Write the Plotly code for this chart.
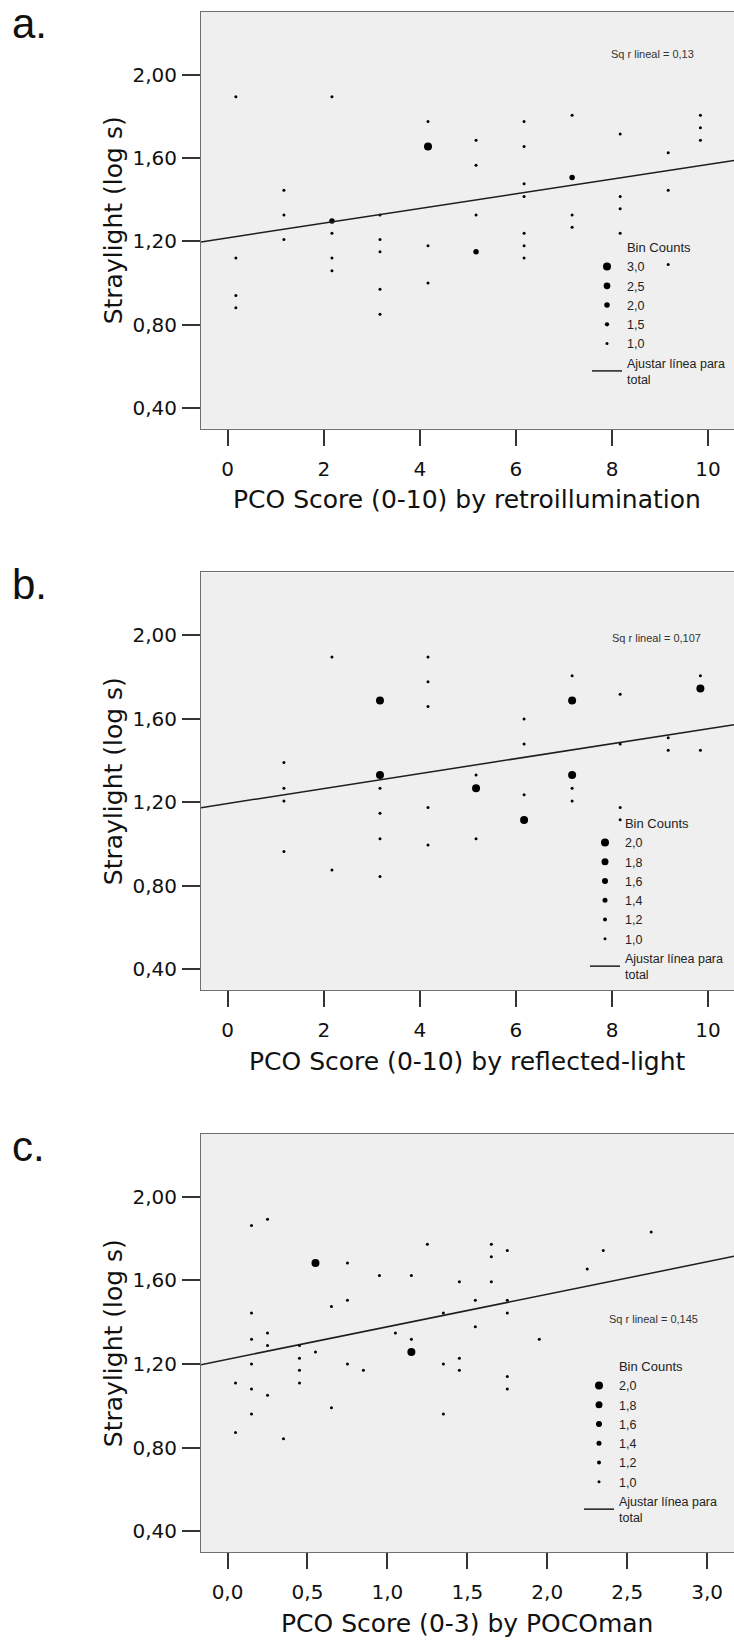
import plotly.graph_objects as go

# ---------------------------------------------------------------------------
# Binned scatter data: PCO score (x), straylight in log s (y), bin count (n)
# ---------------------------------------------------------------------------

# a. PCO score (0-10) by retroillumination
a_score = [0.17, 0.17, 0.17, 0.17,
           1.17, 1.17, 1.17,
           2.17, 2.17, 2.17, 2.17, 2.17,
           3.17, 3.17, 3.17, 3.17, 3.17,
           4.17, 4.17, 4.17, 4.17,
           5.17, 5.17, 5.17, 5.17,
           6.17, 6.17, 6.17, 6.17, 6.17, 6.17, 6.17,
           7.17, 7.17, 7.17, 7.17,
           8.17, 8.17, 8.17, 8.17,
           9.17, 9.17, 9.17,
           9.84, 9.84, 9.84]
a_straylight = [1.893, 1.119, 0.939, 0.880,
                1.445, 1.326, 1.208,
                1.893, 1.297, 1.238, 1.119, 1.058,
                1.326, 1.208, 1.149, 0.969, 0.849,
                1.775, 1.654, 1.178, 0.999,
                1.684, 1.565, 1.326, 1.149,
                1.775, 1.654, 1.476, 1.415, 1.238, 1.178, 1.119,
                1.804, 1.506, 1.326, 1.267,
                1.715, 1.415, 1.356, 1.238,
                1.625, 1.445, 1.088,
                1.804, 1.745, 1.684]
a_count = [1, 1, 1, 1,
           1, 1, 1,
           1, 2, 1, 1, 1,
           1, 1, 1, 1, 1,
           1, 3, 1, 1,
           1, 1, 1, 2,
           1, 1, 1, 1, 1, 1, 1,
           1, 2, 1, 1,
           1, 1, 1, 1,
           1, 1, 1,
           1, 1, 1]
a_fit = (1.216, 0.0352)          # intercept, slope
a_r2 = "Sq r lineal = 0,13"
a_levels = [3.0, 2.5, 2.0, 1.5, 1.0]

# b. PCO score (0-10) by reflected-light
b_score = [1.17, 1.17, 1.17, 1.17,
           2.17, 2.17,
           3.17, 3.17, 3.17, 3.17, 3.17, 3.17,
           4.17, 4.17, 4.17, 4.17, 4.17,
           5.17, 5.17, 5.17,
           6.17, 6.17, 6.17, 6.17,
           7.17, 7.17, 7.17, 7.17, 7.17,
           8.17, 8.17, 8.17, 8.17,
           9.17, 9.17,
           9.84, 9.84, 9.84]
b_straylight = [1.389, 1.266, 1.205, 0.963,
                1.895, 0.874,
                1.686, 1.330, 1.266, 1.146, 1.024, 0.843,
                1.895, 1.776, 1.657, 1.174, 0.994,
                1.330, 1.266, 1.024,
                1.597, 1.478, 1.235, 1.114,
                1.805, 1.686, 1.330, 1.266, 1.205,
                1.716, 1.478, 1.174, 1.115,
                1.508, 1.448,
                1.805, 1.744, 1.448]
b_count = [1, 1, 1, 1,
           1, 1,
           2, 2, 1, 1, 1, 1,
           1, 1, 1, 1, 1,
           1, 2, 1,
           1, 1, 1, 2,
           1, 2, 2, 1, 1,
           1, 1, 1, 1,
           1, 1,
           1, 2, 1]
b_fit = (1.193, 0.0358)
b_r2 = "Sq r lineal = 0,107"
b_levels = [2.0, 1.8, 1.6, 1.4, 1.2, 1.0]

# c. PCO score (0-3) by POCOman
c_score = [0.05, 0.05,
           0.15, 0.15, 0.15, 0.15, 0.15, 0.15,
           0.25, 0.25, 0.25, 0.25,
           0.35,
           0.45, 0.45, 0.45, 0.45,
           0.55, 0.55,
           0.65, 0.65,
           0.75, 0.75, 0.75,
           0.85,
           0.95,
           1.05,
           1.15, 1.15, 1.15,
           1.25,
           1.35, 1.35, 1.35,
           1.45, 1.45, 1.45,
           1.55, 1.55,
           1.65, 1.65, 1.65,
           1.75, 1.75, 1.75, 1.75, 1.75,
           1.95,
           2.25,
           2.35,
           2.65]
c_straylight = [1.110, 0.873,
                1.862, 1.444, 1.319, 1.200, 1.081, 0.961,
                1.892, 1.349, 1.289, 1.051,
                0.843,
                1.289, 1.228, 1.170, 1.110,
                1.683, 1.258,
                1.475, 0.991,
                1.683, 1.505, 1.200,
                1.170,
                1.624,
                1.349,
                1.624, 1.319, 1.258,
                1.773,
                1.444, 1.200, 0.961,
                1.594, 1.228, 1.170,
                1.505, 1.379,
                1.773, 1.713, 1.594,
                1.743, 1.505, 1.444, 1.140, 1.081,
                1.319,
                1.654,
                1.743,
                1.832]
c_count = [1, 1,
           1, 1, 1, 1, 1, 1,
           1, 1, 1, 1,
           1,
           1, 1, 1, 1,
           2, 1,
           1, 1,
           1, 1, 1,
           1,
           1,
           1,
           1, 1, 2,
           1,
           1, 1, 1,
           1, 1, 1,
           1, 1,
           1, 1, 1,
           1, 1, 1, 1, 1,
           1,
           1,
           1,
           1]
c_fit = (1.223, 0.1553)
c_r2 = "Sq r lineal = 0,145"
c_levels = [2.0, 1.8, 1.6, 1.4, 1.2, 1.0]

# Axis ticks
y_ticks = [0.4, 0.8, 1.2, 1.6, 2.0]
x_ticks_10 = [0, 2, 4, 6, 8, 10]
x_ticks_3 = [0.0, 0.5, 1.0, 1.5, 2.0, 2.5, 3.0]

y_title = "Straylight (log s)"
x_titles = ["PCO Score (0-10) by retroillumination",
            "PCO Score (0-10) by reflected-light",
            "PCO Score (0-3) by POCOman"]
panel_tags = ["a.", "b.", "c."]
fit_label = "Ajustar línea para<br>total"
size_title = "Bin Counts"

# ---------------------------------------------------------------------------
# Layout geometry (pixels in a 734 x 1641 page)
# ---------------------------------------------------------------------------
W, H = 734, 1641
PLOT_LEFT = 201
WIDE = "DejaVu Sans, Verdana, sans-serif"
SANS = "Liberation Sans, Arial, sans-serif"
INK = "#111111"


def fx(px):
    return px / W


def fy(px_from_top):
    return 1 - px_from_top / H


def dot_size(n, n_max):
    return 3 + (n - 1) / (n_max - 1) * 5


def comma(v, digits=1):
    return f"{v:.{digits}f}".replace(".", ",")


panels = [
    dict(score=a_score, ly=a_straylight, n=a_count, fit=a_fit, r2=a_r2, levels=a_levels,
         top=12, bottom=428.7, xr=[-0.556, 10.54], xt=x_ticks_10, xf="d",
         leg_x=587, leg_top=235, r2_xy=(652, 54)),
    dict(score=b_score, ly=b_straylight, n=b_count, fit=b_fit, r2=b_r2, levels=b_levels,
         top=572.3, bottom=990, xr=[-0.556, 10.54], xt=x_ticks_10, xf="d",
         leg_x=585, leg_top=811, r2_xy=(656, 638)),
    dict(score=c_score, ly=c_straylight, n=c_count, fit=c_fit, r2=c_r2, levels=c_levels,
         top=1134, bottom=1552.3, xr=[-0.166, 3.168], xt=x_ticks_3, xf=".1f",
         leg_x=579, leg_top=1354, r2_xy=(653, 1319)),
]

fig = go.Figure()
annotations = []
layout_axes = {}

for i, p in enumerate(panels):
    k = "" if i == 0 else str(i + 1)
    xa, ya = "x" + k, "y" + k
    leg = "legend" + k
    n_max = max(p["levels"])

    # binned points
    fig.add_trace(go.Scatter(
        x=p["score"], y=p["ly"], mode="markers", xaxis=xa, yaxis=ya,
        marker=dict(size=[dot_size(v, n_max) for v in p["n"]], color="black",
                    opacity=1, line=dict(width=0)),
        showlegend=False, hoverinfo="x+y", legend=leg))

    # size key entries
    for lv in p["levels"]:
        fig.add_trace(go.Scatter(
            x=[None], y=[None], mode="markers", xaxis=xa, yaxis=ya,
            marker=dict(size=dot_size(lv, n_max), color="black", opacity=1,
                        line=dict(width=0)),
            name=comma(lv), legend=leg, showlegend=True))

    # linear fit across the full axis
    b0, b1 = p["fit"]
    x0, x1 = p["xr"]
    fig.add_trace(go.Scatter(
        x=[x0, x1], y=[b0 + b1 * x0, b0 + b1 * x1], mode="lines",
        xaxis=xa, yaxis=ya, line=dict(color="#1e1e1e", width=1.5),
        name=fit_label, legend=leg, showlegend=True))

    ydom = [fy(p["bottom"]), fy(p["top"])]
    layout_axes["xaxis" + k] = dict(
        domain=[fx(PLOT_LEFT), 1], range=p["xr"], anchor=ya,
        showline=True, mirror=True, linecolor="#6f6f6f", linewidth=1,
        ticks="outside", ticklen=16, tickwidth=1.5, tickcolor="#333333",
        tickvals=p["xt"], tickformat=p["xf"], ticklabelstandoff=6,
        tickfont=dict(family=WIDE, size=20, color=INK),
        showgrid=False, zeroline=False)
    layout_axes["yaxis" + k] = dict(
        domain=ydom, range=[0.3, 2.3], anchor=xa,
        showline=True, mirror=True, linecolor="#6f6f6f", linewidth=1,
        ticks="outside", ticklen=18, tickwidth=1.5, tickcolor="#333333",
        tickvals=y_ticks, tickformat=".2f", ticklabelstandoff=1,
        tickfont=dict(family=WIDE, size=20, color=INK),
        showgrid=False, zeroline=False)

    layout_axes[leg] = dict(
        x=fx(p["leg_x"]), y=fy(p["leg_top"]), xanchor="left", yanchor="top",
        bgcolor="rgba(0,0,0,0)", borderwidth=0,
        font=dict(family=SANS, size=12.5, color="#222222"),
        title=dict(text=size_title, side="top center",
                   font=dict(family=SANS, size=13, color="#222222")),
        itemsizing="trace", tracegroupgap=0, itemclick=False, itemdoubleclick=False)

    mid = (p["top"] + p["bottom"]) / 2
    annotations += [
        dict(text=y_title, x=fx(113), y=fy(mid), xref="paper", yref="paper",
             textangle=-90, showarrow=False, xanchor="center", yanchor="middle",
             font=dict(family=WIDE, size=25, color=INK)),
        dict(text=x_titles[i], x=fx(467), y=fy(p["bottom"] + 71), xref="paper", yref="paper",
             showarrow=False, xanchor="center", yanchor="middle",
             font=dict(family=WIDE, size=25, color=INK)),
        dict(text=panel_tags[i], x=fx(10), y=fy(p["top"] + 12), xref="paper", yref="paper",
             showarrow=False, xanchor="left", yanchor="middle",
             font=dict(family=SANS, size=42, color=INK)),
        dict(text=p["r2"], x=fx(p["r2_xy"][0]), y=fy(p["r2_xy"][1]), xref="paper", yref="paper",
             showarrow=False, xanchor="center", yanchor="middle",
             font=dict(family=SANS, size=11, color="#333333")),
    ]

fig.update_layout(
    width=W, height=H, margin=dict(l=0, r=0, t=0, b=0),
    paper_bgcolor="white", plot_bgcolor="#efefef",
    separators=",.", annotations=annotations, **layout_axes)

fig.write_html("out.html")
